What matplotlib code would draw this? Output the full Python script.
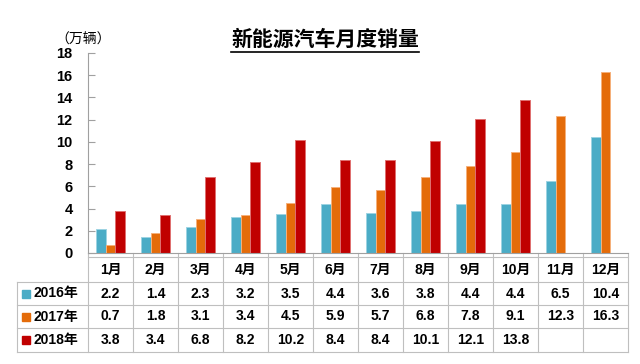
import matplotlib
matplotlib.use("Agg")
import matplotlib.pyplot as plt
from matplotlib.lines import Line2D
import numpy as np

plt.rcParams['font.family'] = ['Liberation Sans', 'Noto Sans CJK SC', 'DejaVu Sans']

months = ["1月", "2月", "3月", "4月", "5月", "6月", "7月", "8月", "9月", "10月", "11月", "12月"]
series_names = ["2016年", "2017年", "2018年"]
sales_2016 = [2.2, 1.4, 2.3, 3.2, 3.5, 4.4, 3.6, 3.8, 4.4, 4.4, 6.5, 10.4]
sales_2017 = [0.7, 1.8, 3.1, 3.4, 4.5, 5.9, 5.7, 6.8, 7.8, 9.1, 12.3, 16.3]
sales_2018 = [3.8, 3.4, 6.8, 8.2, 10.2, 8.4, 8.4, 10.1, 12.1, 13.8, None, None]

colors = ["#4BACC6", "#E46C0A", "#C00000"]
edges = ["#9DD3E2", "#F6B07A", "#E07070"]
grid_c = "#BFBFBF"

fig = plt.figure(figsize=(6.4, 3.64), dpi=100)
ax = fig.add_axes([88/640, 1-253/364, 540/640, 200/364])

x = np.arange(len(months))
w = 0.21
all_series = [sales_2016, sales_2017, sales_2018]
for i, vals in enumerate(all_series):
    v = [np.nan if a is None else a for a in vals]
    ax.bar(x + (i-1)*w, v, w, color=colors[i], edgecolor=edges[i], linewidth=0.7)

ax.set_xlim(-0.5, 11.5)
ax.set_ylim(0, 18)
ax.set_yticks(range(0, 19, 2))
ax.tick_params(axis='y', direction='in', length=5, color='#A0A0A0', pad=11,
               labelsize=10.5)
for lab in ax.get_yticklabels():
    lab.set_fontweight('bold')
ax.set_xticks([])
for s in ['top', 'right']:
    ax.spines[s].set_visible(False)
for s in ['left', 'bottom']:
    ax.spines[s].set_color('#A0A0A0')
    ax.spines[s].set_linewidth(0.8)

# data table under the axis
tr = ax.get_xaxis_transform()
rows_y = [-0.02, -0.145, -0.26, -0.375, -0.495]
left_x = -0.5 - 71/45
lk = dict(color=grid_c, linewidth=0.8, transform=tr, clip_on=False)
ax.plot([-0.5, 11.5], [rows_y[0]]*2, **lk)
for yy in rows_y[1:]:
    ax.plot([left_x, 11.5], [yy]*2, **lk)
for k in range(13):
    ax.plot([k-0.5, k-0.5], [0, rows_y[-1]], **lk)
ax.plot([left_x, left_x], [rows_y[1], rows_y[-1]], **lk)

for j, m in enumerate(months):
    ax.text(j, (rows_y[0]+rows_y[1])/2, m, transform=tr, ha='center', va='center',
            fontsize=10, fontweight='bold')
for i, vals in enumerate(all_series):
    yc = (rows_y[i+1]+rows_y[i+2])/2
    for j, v in enumerate(vals):
        if v is not None:
            ax.text(j, yc, f"{v:.1f}", transform=tr, ha='center', va='center',
                    fontsize=10, fontweight='bold')
    ax.plot([-0.5-62/45], [yc], marker='s', markersize=5.5, color=colors[i],
            transform=tr, clip_on=False)
    ax.text(-0.5-55/45, yc, series_names[i], transform=tr, ha='left', va='center',
            fontsize=10, fontweight='bold')

fig.text(83/640, 1-40/364, "（万辆）", ha='center', va='center', fontsize=10)
title = fig.text(325/640, 1-40/364, "新能源汽车月度销量", ha='center', va='center',
                 fontsize=15, fontweight='bold')

fig.canvas.draw()
bb = title.get_window_extent()
ly = (bb.y0 - 1.5) / fig.bbox.height
fig.add_artist(Line2D([bb.x0/fig.bbox.width, bb.x1/fig.bbox.width], [ly, ly],
                      color='black', linewidth=1.2, transform=fig.transFigure))

fig.savefig("out.png", dpi=100)
